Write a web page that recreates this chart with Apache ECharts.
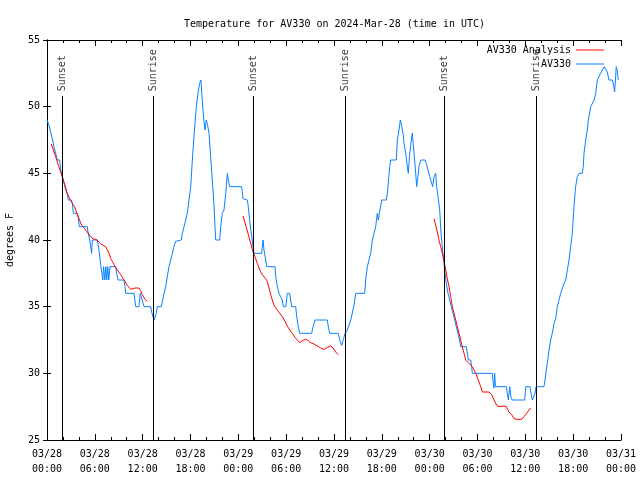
<!DOCTYPE html>
<html><head><meta charset="utf-8">
<script src="https://cdn.jsdelivr.net/npm/echarts@6/dist/echarts.min.js"></script>
<style>html,body{margin:0;padding:0;background:#fff}#c{width:640px;height:480px}</style>
</head><body><div id="c"></div>
<script>
const chartTitle = 'Temperature for AV330 on 2024-Mar-28 (time in UTC)';
const xTickLabels = ['03/28\n00:00','03/28\n06:00','03/28\n12:00','03/28\n18:00','03/29\n00:00','03/29\n06:00','03/29\n12:00','03/29\n18:00','03/30\n00:00','03/30\n06:00','03/30\n12:00','03/30\n18:00','03/31\n00:00'];
const seriesNames = ['AV330 Analysis', 'AV330'];
const seriesColors = ['#ff0000', '#0a80ff'];

// hours since 2024-03-28 00:00 UTC
const obsHours = [0.00,0.25,0.46,0.66,0.88,1.09,1.29,1.59,1.72,1.92,2.13,2.35,2.55,2.67,3.05,3.17,3.30,3.80,3.93,4.05,5.06,5.14,5.36,5.52,5.60,5.68,6.31,6.52,6.74,6.90,7.00,7.10,7.25,7.38,7.50,7.62,7.75,7.90,8.62,8.74,8.91,9.66,9.78,9.87,10.91,11.13,11.54,11.70,11.92,12.17,13.00,13.17,13.42,13.71,13.84,14.34,14.68,14.89,15.10,15.30,15.52,15.72,15.93,16.14,16.34,16.85,16.97,17.19,17.40,17.60,17.81,18.03,18.23,18.35,18.53,18.73,18.94,19.15,19.32,19.41,19.57,19.69,19.82,19.98,20.15,20.32,20.53,20.73,20.95,21.07,21.16,21.66,21.79,21.99,22.20,22.42,22.62,22.74,22.92,24.42,24.59,24.71,25.13,25.25,25.46,25.68,25.84,25.97,26.93,27.10,27.22,27.43,27.56,28.60,28.69,28.89,29.10,29.31,29.52,29.64,29.95,30.14,30.44,30.57,30.69,31.20,31.32,31.52,31.70,33.20,33.37,33.62,35.16,35.29,35.46,36.54,36.72,36.97,37.20,37.40,37.67,37.88,38.10,38.30,38.51,38.72,39.85,39.97,40.18,40.39,40.60,40.81,41.02,41.23,41.43,41.56,41.68,41.86,41.98,42.56,42.69,42.81,42.99,43.11,43.82,43.94,44.15,44.32,44.50,44.66,44.78,45.00,45.20,45.32,45.50,45.70,45.82,46.04,46.25,46.37,46.50,46.66,46.88,47.42,47.58,47.79,48.01,48.26,48.38,48.55,48.76,48.88,49.05,49.26,49.42,49.59,49.76,49.92,50.09,50.30,50.51,50.71,50.93,51.14,51.34,51.59,51.74,51.89,52.60,52.72,52.85,53.15,53.27,53.35,55.86,55.98,56.07,56.15,56.25,57.62,57.74,57.87,58.04,58.20,58.37,59.92,60.05,60.59,60.71,60.88,61.09,61.22,61.34,62.34,62.47,62.63,62.81,62.97,63.18,63.38,63.60,63.81,64.01,64.23,64.44,64.64,64.85,65.06,65.27,65.48,65.69,65.89,66.10,66.31,66.52,66.73,67.15,67.27,67.36,67.57,67.78,67.90,68.20,68.40,68.62,68.83,69.03,69.24,69.45,69.66,69.87,70.08,70.28,70.49,70.91,71.03,71.20,71.33,71.40,71.52,71.65];
const obsTemps = [49,48.6,48.1,47.6,47,46.5,46,46,45.25,44.75,44.25,43.75,43.4,43,43,42.8,42,42,41.6,41,41,40.6,40,40,39,40,40,39.25,38.1,38,37,38,37,38,37,38,37,38,38,37.5,37,37,36.5,36,36,35,35,36,36,35,35,34.5,34,34.5,35,35,36,36.5,37.3,38,38.5,39,39.5,39.9,40,40,40.5,41,41.5,42,43,44,46,47,48.5,50,51,51.75,52,51,49.75,48.9,48.25,49,48.6,48,46.25,44.5,42.6,41,40,40,41,42,42.25,43.5,45,44.5,44,44,43.1,43,43,42.5,41.25,40.25,39.5,39,39,40,39.25,38.5,38,38,37.25,36.5,36,35.75,35.5,35,35,36,36,35.5,35,35,34.25,33.5,33,33,33.5,34,34,33.5,33,33,32.5,32.1,32.6,33,33.25,33.6,34,34.1,35.1,36,36,37,38,38.5,39,40,40.5,41,42,41.5,42,42,43,43,43.5,44.25,45.5,46,46,47.5,48.25,49,48.5,48,47.25,46.5,45.5,45,46.5,47.5,48,46.5,45,44,44.6,45.5,46,46,45.75,45.25,44.75,44.25,44,44.75,45,44,43.25,42.25,40.5,39.5,38.5,37.5,36.75,36,35.5,35,34.5,34,33.5,32.9,32.5,32,32,31.5,31,31,30.5,30,30,29.25,28.9,30,29,29,28.5,28,29,28.2,28,28,29,29,28.5,28,28,28.5,29,29,29.5,30.25,31,31.75,32.5,33,33.75,34.1,35,35.1,36,36.1,36.75,37,37,38.5,39.5,40.5,42.5,44,44.75,45,45,45.5,46.5,47.5,48.25,49,50,50,50.5,51,52,52.05,52.5,52.75,53,53,52.6,52,52,51.75,51.1,52.25,53,52.75,52];

// analysis runs, null separates the three runs
const anaHours = [0.54,0.88,1.17,1.42,1.63,1.92,2.26,2.55,2.85,3.17,3.47,3.68,3.93,4.23,4.52,4.85,5.18,5.48,5.77,6.31,6.74,7.36,7.56,7.78,7.99,8.19,8.53,8.82,9.24,9.66,10.07,10.50,11.04,11.54,11.75,11.95,12.29,12.58,
  13.0,
  24.59,24.93,25.21,25.55,25.84,26.09,26.38,26.68,27.01,27.43,27.63,27.85,28.06,28.26,28.56,28.89,29.19,29.52,29.85,30.14,30.44,30.77,31.11,31.40,31.70,32.02,32.45,32.78,33.08,33.49,33.91,34.33,34.75,35.16,35.59,35.88,36.21,36.54,
  37.0,
  48.55,48.76,48.96,49.17,49.38,49.59,49.80,50.01,50.21,50.43,50.64,50.84,51.06,51.27,51.47,51.89,52.09,52.31,52.52,52.93,53.35,53.78,54.10,54.40,54.61,55.03,55.44,55.78,56.07,56.41,56.70,57.33,57.62,57.95,58.29,58.58,59.00,59.55,59.83,60.17,60.46,60.67];
const anaTemps = [47.2,46.6,46.1,45.6,45.25,44.75,44.1,43.5,43.1,42.75,42.5,42.1,41.75,41.25,41,40.75,40.5,40.25,40.1,40,39.7,39.5,39.4,39,38.6,38.4,38,37.75,37.4,37,36.6,36.3,36.4,36.4,36.2,35.9,35.55,35.4,
  null,
  41.8,41.1,40.5,39.75,39.1,38.75,38.25,37.75,37.4,37.1,36.9,36.4,35.9,35.5,35,34.75,34.5,34.25,33.9,33.55,33.25,33,32.7,32.5,32.3,32.45,32.55,32.45,32.3,32.2,32.05,31.9,31.8,31.95,32.05,31.9,31.6,31.4,
  null,
  41.6,41.1,40.6,40,39.5,39,38.4,37.75,37.1,36.5,35.75,35,34.5,34,33.5,32.5,32,31.5,31,30.75,30.5,30,29.5,29,28.6,28.6,28.6,28.4,28,27.6,27.5,27.55,27.5,27.1,26.9,26.6,26.55,26.55,26.75,27,27.25,27.4];

const sunHours = [1.88, 13.30, 25.84, 37.38, 49.80, 61.34];
const sunNames = ['Sunset', 'Sunrise', 'Sunset', 'Sunrise', 'Sunset', 'Sunrise'];

const FONT = 'DejaVu Sans Mono';
const Y_MIN = 25, Y_MAX = 55;
const SUN_LINE_TOP = 50.8, SUN_LABEL_Y = 51.15;

const obsData = obsHours.map((h, i) => [h, obsTemps[i]]);
const anaData = anaHours.map((h, i) => [h, anaTemps[i] === null ? '-' : anaTemps[i]]);

const chart = echarts.init(document.getElementById('c'), null, {renderer: 'canvas'});
const tickStyle = {color: '#000', width: 1};
chart.setOption({
  animation: false,
  backgroundColor: '#fff',
  textStyle: {fontFamily: FONT, color: '#000'},
  title: {text: chartTitle, left: 179, top: 14, textStyle: {fontFamily: FONT, fontSize: 10, fontWeight: 'normal', color: '#000'}},
  legend: {
    data: seriesNames.map((n, i) => ({name: n, icon: 'rect', itemStyle: {color: seriesColors[i], borderWidth: 0}})),
    orient: 'vertical', align: 'right', right: 31, top: 39,
    itemWidth: 28, itemHeight: 1, itemGap: 2,
    textStyle: {fontFamily: FONT, fontSize: 10, color: '#000', lineHeight: 12}
  },
  grid: {left: 47, right: 19, top: 40, bottom: 40, containLabel: false, outerBoundsMode: 'none'},
  xAxis: [
    {type: 'value', min: 0, max: 72, interval: 6, position: 'bottom',
     axisLine: {lineStyle: tickStyle}, splitLine: {show: false},
     axisTick: {inside: true, length: 6, lineStyle: tickStyle},
     minorTick: {show: true, splitNumber: 3, length: 3, lineStyle: tickStyle},
     axisLabel: {formatter: v => xTickLabels[Math.round(v / 6)], fontFamily: FONT, fontSize: 10, color: '#000', lineHeight: 15, margin: 7}},
    {type: 'value', min: 0, max: 72, interval: 6, position: 'top',
     axisLine: {lineStyle: tickStyle}, splitLine: {show: false},
     axisTick: {inside: true, length: 6, lineStyle: tickStyle},
     minorTick: {show: true, splitNumber: 3, length: 3, lineStyle: tickStyle},
     axisLabel: {show: false}}
  ],
  yAxis: [
    {type: 'value', min: Y_MIN, max: Y_MAX, interval: 5, position: 'left',
     name: 'degrees F', nameLocation: 'middle', nameGap: 32, nameRotate: 90,
     nameTextStyle: {fontFamily: FONT, fontSize: 10, color: '#000'},
     axisLine: {lineStyle: tickStyle}, splitLine: {show: false},
     axisTick: {inside: true, length: 4, lineStyle: tickStyle},
     axisLabel: {fontFamily: FONT, fontSize: 10, color: '#000', margin: 7}},
    {type: 'value', min: Y_MIN, max: Y_MAX, interval: 5, position: 'right',
     axisLine: {lineStyle: tickStyle}, splitLine: {show: false},
     axisTick: {inside: true, length: 4, lineStyle: tickStyle},
     axisLabel: {show: false}}
  ],
  series: [
    {name: 'AV330', type: 'line', data: obsData, symbol: 'none', showSymbol: false,
     lineStyle: {color: seriesColors[1], width: 1}, itemStyle: {color: seriesColors[1]}, z: 3},
    {name: 'AV330 Analysis', type: 'line', data: anaData, symbol: 'none', showSymbol: false, connectNulls: false,
     lineStyle: {color: seriesColors[0], width: 1}, itemStyle: {color: seriesColors[0]}, z: 4},
    {name: 'sunLines', type: 'line', data: [], silent: true, z: 2,
     markLine: {silent: true, symbol: ['none', 'none'], animation: false,
       lineStyle: {color: '#000', width: 1, type: 'solid'}, label: {show: false},
       data: sunHours.map(h => [{coord: [h, Y_MIN]}, {coord: [h, SUN_LINE_TOP]}])}},
    {name: 'sunLabels', type: 'scatter', symbolSize: 0, silent: true, z: 5,
     data: sunHours.map(h => [h, SUN_LABEL_Y]),
     label: {show: true, position: 'inside', formatter: p => sunNames[p.dataIndex], rotate: 90,
       align: 'left', verticalAlign: 'middle', fontFamily: FONT, fontSize: 10, color: '#000'}}
  ]
});
</script></body></html>
